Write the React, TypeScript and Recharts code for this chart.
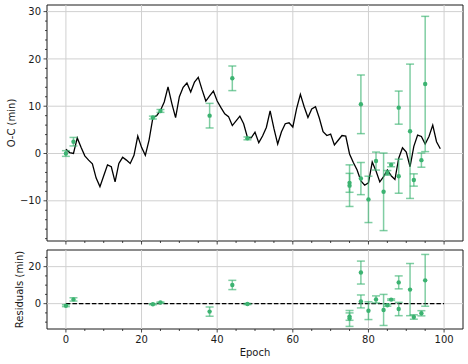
import React from "react";
import {
  ComposedChart,
  Line,
  Scatter,
  ErrorBar,
  XAxis,
  YAxis,
  ReferenceLine,
  ReferenceArea,
} from "recharts";

// model O-C curve, one value per epoch (0..99)
const MODEL_OC = [
  0.9, 0.2, 0.0, 3.3, 1.3, -0.5, -1.4, -2.2, -5.2, -7.0,
  -4.7, -2.4, -2.8, -6.0, -2.1, -0.8, -1.4, -2.1, -0.4, 3.7,
  1.3, -0.4, 2.9, 7.6, 8.0, 9.1, 10.9, 14.1, 10.6, 7.6,
  12.0, 14.0, 14.9, 13.0, 15.1, 16.1, 13.5, 11.1, 12.2, 13.2,
  11.1, 9.7, 8.4, 7.8, 5.9, 6.9, 7.9, 6.3, 3.4, 3.3,
  4.5, 2.3, 3.7, 5.5, 9.0, 5.3, 2.0, 4.6, 6.3, 6.5,
  5.6, 9.5, 12.5, 9.9, 7.6, 9.4, 9.9, 7.5, 4.6, 3.8,
  4.1, 1.8, 2.8, 3.8, 3.7, -0.1, -1.9, -3.5, -5.8, -6.7,
  -6.2, -1.8, -3.7, -6.0, -4.9, -3.5, -4.7, -5.5, -1.0, 1.2,
  0.3, -2.8, 1.5, 3.9, 3.6, 2.0, 3.6, 6.0, 2.5, 1.0,
];

// observed transits
const OBS_EPOCH = [0, 2, 23, 25, 38, 44, 48, 75, 75, 78, 78, 80, 82, 84, 85, 86, 88, 88, 91, 92, 94, 95];
const OBS_OC = [0.0, 2.5, 7.6, 9.0, 8.0, 15.9, 3.2, -6.2, -6.8, 10.4, -5.3, -9.7, -1.6, -8.1, -4.1, -2.4, 9.7, -4.8, 4.7, -5.6, -1.4, 14.7];
const OBS_ERR = [0.6, 0.9, 0.3, 0.3, 2.6, 2.6, 0.3, 2.0, 4.4, 6.2, 3.4, 4.9, 1.9, 8.2, 0.5, 0.4, 3.5, 3.6, 14.2, 1.3, 1.5, 14.3];

// residuals after subtracting the model
const RES = [-1.1, 2.3, -0.3, 0.6, -4.3, 10.1, -0.2, -7.0, -8.0, 16.8, 1.2, -3.8, 2.3, -3.4, -0.9, 2.2, 11.5, -2.9, 7.6, -7.2, -5.2, 12.6];
const RES_ERR = [0.5, 0.9, 0.3, 0.3, 2.5, 2.5, 0.3, 2.0, 4.3, 6.2, 3.5, 4.8, 1.9, 8.4, 0.5, 0.4, 3.5, 3.6, 14.1, 1.2, 1.4, 14.0];

// axes
const X_DOMAIN = [-5, 105];
const X_MAJOR = [0, 20, 40, 60, 80, 100];
const X_MINOR = [5, 10, 15, 25, 30, 35, 45, 50, 55, 65, 70, 75, 85, 90, 95];
const OC_DOMAIN = [-18.5, 31.4];
const OC_MAJOR = [-10, 0, 10, 20, 30];
const OC_MINOR = [-18, -16, -14, -12, -8, -6, -4, -2, 2, 4, 6, 8, 12, 14, 16, 18, 22, 24, 26, 28];
const RES_DOMAIN = [-13.7, 29.0];
const RES_MAJOR = [0, 20];
const RES_MINOR = [-10, -5, 5, 10, 15, 25];

const GREEN = "#3cb371";
const BAR = "rgba(60,179,113,0.65)";
const INK = "#1a1a1a";
const GRID = "#d0d0d0";
const FONT = "DejaVu Sans";

const modelData = MODEL_OC.map((oc, i) => ({ epoch: i, oc }));
const obsData = OBS_EPOCH.map((epoch, i) => ({ epoch, oc: OBS_OC[i], err: OBS_ERR[i] }));
const resData = OBS_EPOCH.map((epoch, i) => ({ epoch, res: RES[i], err: RES_ERR[i] }));
const zeroData = [
  { epoch: 0, res: 0 },
  { epoch: 100, res: 0 },
];

const fmt = (v: number) => (v < 0 ? `\u2212${Math.abs(v)}` : `${v}`);
const sorted = (a: number[], b: number[]) => [...a, ...b].sort((p, q) => p - q);

const makeXTick = (showLabel: boolean) => (props: any) => {
  const { x, y, payload } = props;
  const major = X_MAJOR.includes(payload.value);
  return (
    <g>
      <line x1={x} x2={x} y1={y} y2={y + (major ? 3.5 : 2)} stroke={INK} strokeWidth={0.8} />
      {major && showLabel && (
        <text x={x} y={y + 13.8} textAnchor="middle" fontSize={10} fontFamily={FONT} fill={INK}>
          {fmt(payload.value)}
        </text>
      )}
    </g>
  );
};

const makeYTick = (majors: number[]) => (props: any) => {
  const { x, y, payload } = props;
  const major = majors.includes(payload.value);
  return (
    <g>
      <line x1={x - (major ? 3.5 : 2)} x2={x} y1={y} y2={y} stroke={INK} strokeWidth={0.8} />
      {major && (
        <text x={x - 6} y={y + 3.6} textAnchor="end" fontSize={10} fontFamily={FONT} fill={INK}>
          {fmt(payload.value)}
        </text>
      )}
    </g>
  );
};

const dot = (p: any) => <circle cx={p.cx} cy={p.cy} r={2.2} fill={GREEN} />;

const yLabel = (text: string, x: number, y: number) => (
  <text
    x={x}
    y={y}
    transform={`rotate(-90 ${x} ${y})`}
    textAnchor="middle"
    fontSize={10}
    fontFamily={FONT}
    fill={INK}
  >
    {text}
  </text>
);

export default function App() {
  return (
    <div style={{ position: "absolute", left: 0, top: 0, width: 468, height: 364, background: "#fff", fontFamily: FONT }}>
      <div style={{ position: "absolute", left: 0, top: 0 }}>
        <ComposedChart width={468} height={250} margin={{ top: 5, right: 5, bottom: 0, left: 0 }}>
          <XAxis
            dataKey="epoch"
            type="number"
            domain={X_DOMAIN}
            allowDataOverflow
            ticks={sorted(X_MAJOR, X_MINOR)}
            interval={0}
            tickSize={0}
            tickMargin={0}
            tickLine={false}
            axisLine={false}
            height={9}
            tick={makeXTick(false)}
          />
          <YAxis
            type="number"
            domain={OC_DOMAIN}
            allowDataOverflow
            ticks={sorted(OC_MAJOR, OC_MINOR)}
            interval={0}
            tickSize={0}
            tickMargin={0}
            tickLine={false}
            axisLine={false}
            width={47}
            tick={makeYTick(OC_MAJOR)}
            label={{ content: () => yLabel("O-C (min)", 15, 123) }}
          />
          {X_MAJOR.map((v) => (
            <ReferenceLine key={`gx${v}`} x={v} stroke={GRID} strokeWidth={1} />
          ))}
          {OC_MAJOR.map((v) => (
            <ReferenceLine key={`gy${v}`} y={v} stroke={GRID} strokeWidth={1} />
          ))}
          <Line
            data={modelData}
            dataKey="oc"
            stroke="#000"
            strokeWidth={1.3}
            dot={false}
            isAnimationActive={false}
          />
          <Scatter data={obsData} dataKey="oc" shape={dot} isAnimationActive={false}>
            <ErrorBar dataKey="err" direction="y" width={4} stroke={BAR} strokeWidth={1.5} />
          </Scatter>
          <ReferenceArea
            x1={X_DOMAIN[0]}
            x2={X_DOMAIN[1]}
            y1={OC_DOMAIN[0]}
            y2={OC_DOMAIN[1]}
            fill="none"
            stroke={INK}
            strokeWidth={1}
          />
        </ComposedChart>
      </div>
      <div style={{ position: "absolute", left: 0, top: 245 }}>
        <ComposedChart width={468} height={119} margin={{ top: 5, right: 5, bottom: 0, left: 0 }}>
          <XAxis
            dataKey="epoch"
            type="number"
            domain={X_DOMAIN}
            allowDataOverflow
            ticks={sorted(X_MAJOR, X_MINOR)}
            interval={0}
            tickSize={0}
            tickMargin={0}
            tickLine={false}
            axisLine={false}
            height={35}
            tick={makeXTick(true)}
            label={{
              content: () => (
                <text x={255} y={111} textAnchor="middle" fontSize={10} fontFamily={FONT} fill={INK}>
                  Epoch
                </text>
              ),
            }}
          />
          <YAxis
            type="number"
            domain={RES_DOMAIN}
            allowDataOverflow
            ticks={sorted(RES_MAJOR, RES_MINOR)}
            interval={0}
            tickSize={0}
            tickMargin={0}
            tickLine={false}
            axisLine={false}
            width={47}
            tick={makeYTick(RES_MAJOR)}
            label={{ content: () => yLabel("Residuals (min)", 23, 44.5) }}
          />
          {X_MAJOR.map((v) => (
            <ReferenceLine key={`rx${v}`} x={v} stroke={GRID} strokeWidth={1} />
          ))}
          {RES_MAJOR.map((v) => (
            <ReferenceLine key={`ry${v}`} y={v} stroke={GRID} strokeWidth={1} />
          ))}
          <Line
            data={zeroData}
            dataKey="res"
            stroke="#000"
            strokeWidth={1.2}
            strokeDasharray="4.5 2"
            dot={false}
            isAnimationActive={false}
          />
          <Scatter data={resData} dataKey="res" shape={dot} isAnimationActive={false}>
            <ErrorBar dataKey="err" direction="y" width={4} stroke={BAR} strokeWidth={1.5} />
          </Scatter>
          <ReferenceArea
            x1={X_DOMAIN[0]}
            x2={X_DOMAIN[1]}
            y1={RES_DOMAIN[0]}
            y2={RES_DOMAIN[1]}
            fill="none"
            stroke={INK}
            strokeWidth={1}
          />
        </ComposedChart>
      </div>
    </div>
  );
}
